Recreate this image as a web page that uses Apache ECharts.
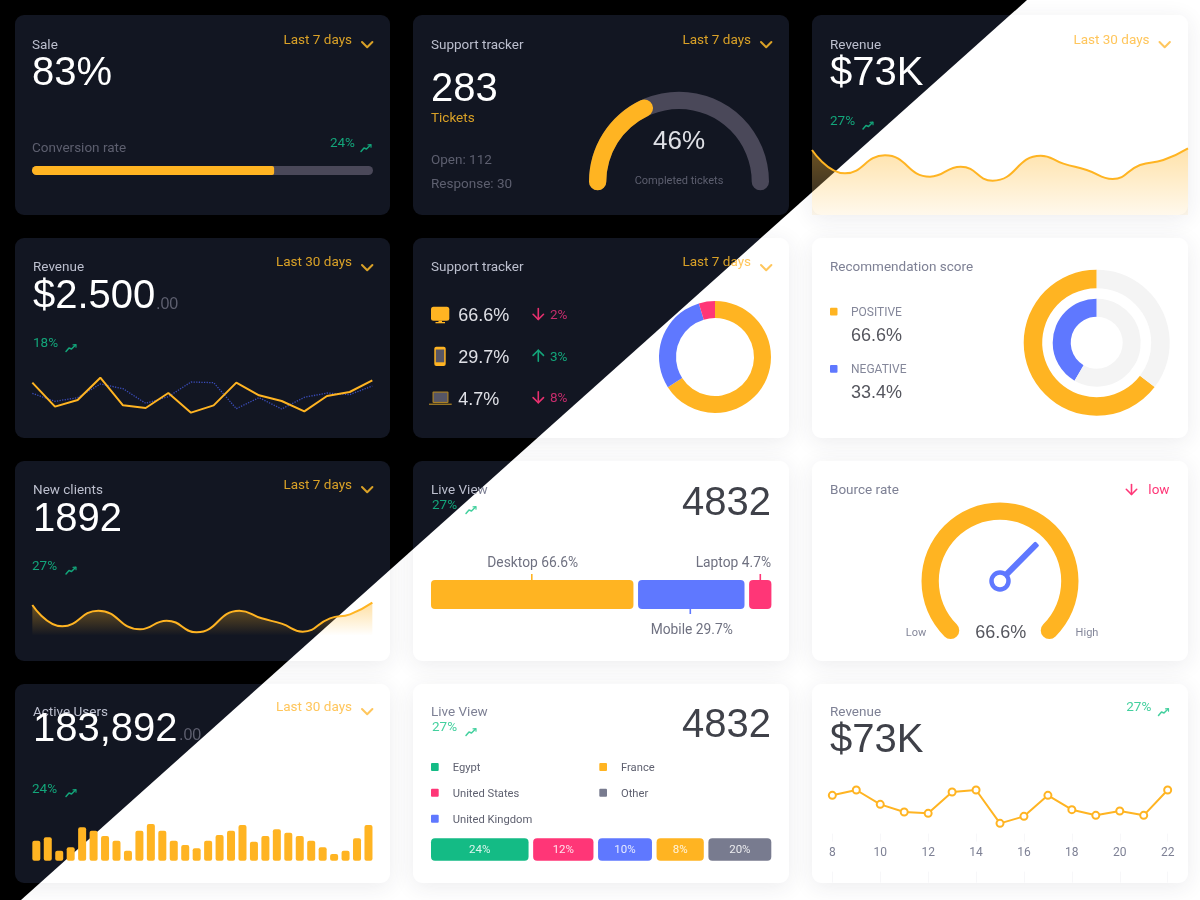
<!DOCTYPE html>
<html><head><meta charset="utf-8">
<style>
html,body{margin:0;padding:0;background:#fff;width:1200px;height:900px;overflow:hidden}
#light,#dark{position:absolute;left:0;top:0;width:1200px;height:900px}
#dark{clip-path:polygon(0 0,1027px 0,21px 900px,0 900px)}
</style>
<script src="https://cdn.jsdelivr.net/npm/echarts@6/dist/echarts.min.js"></script>
</head><body>
<div id="light"></div><div id="dark"></div>
<script>
// ---- data ----
const conversionRate = [71];
const conversionTrack = [100];
const ticketGauge = [36];
const revenueAreaX = [36,135,255,390,482,578,722,790,860,938,1020,1090,1164];
const revenueAreaY = [195,125,179,115,145,103,178,154,135,108,150,165,200];
const revenueLineA = [142,70,90,157,74,66,111,52,74,142,104,87,56,102,114,149];
const revenueLineB = [110,86,97,138,124,80,100,144,142,64,97,63,98,111,106,132];
const deviceShare = [66.6,29.7,4.7];
const recommendOuter = [64.6,35.4];
const recommendInner = [41.6,58.4];
const clientsAreaX = [97,187,295,420,500,590,718,785,845,908,990,1050,1117];
const clientsAreaY = [92,28,75,19,45,10,75,52,36,12,52,64,99];
const liveDeviceWidths = [202.5,106.5,22.3];
const liveDeviceGap = 4.6;
const bounceGauge = [66.6];
const activeUsers = [60,70,30,40,100,90,74,60,30,90,110,90,60,47,37,60,77,90,107,57,74,94,84,74,60,40,20,30,67,107];
const countryWidths = [97.7,60.4,54,47.3,63];
const countryGap = 4.6;
const countryLabels = ['24%','12%','10%','8%','20%'];
const countryNames = ['Egypt','United States','United Kingdom','France','Other'];
const revenueDays = ['8','9','10','11','12','13','14','15','16','17','18','19','20','21','22'];
const revenuePoints = [139,155,112,89,85,149,155,55,76,139,96,79,92,79,155];

const YEL='#ffb422', BLU='#5f78ff', PNK='#ff3677', GRN='#14bb85', GRY='#787b8f';
const UI='Roboto', NUM='"Liberation Sans"', US=13.5;
const themes={
 dark:{bg:'#000',card:'#121622',title:'#bcbfce',big:'#ffffff',mid:'#dfe0e6',muted:'#5d5f6f',yellow:'#d9a127',green:'#13a57a',pink:'#c52c6c',track:'#4a4859',cents:'#5d5f6f',shadow:null,up:'#13a57a',pinkArrow:'#e8306f'},
 light:{bg:'#fff',card:'#ffffff',title:'#7e8195',big:'#3f4149',mid:'#55565e',muted:'#6f7181',yellow:'#ffc65c',green:'#43d09e',pink:'#ff3677',track:'#4a4859',cents:'#a0a3b3',shadow:'rgba(40,40,70,0.09)',up:'#14bb85',pinkArrow:'#ff3677'}
};

function newLayer(theme){return {P:themes[theme],theme,grid:[],xAxis:[],yAxis:[],series:[],graphic:[]};}
function card(L,x,y,w,h){
  L.graphic.push({type:'rect',z:-10,shape:{x,y,width:w,height:h,r:9},style:{fill:L.P.card,shadowBlur:L.P.shadow?22:0,shadowColor:L.P.shadow||'transparent',shadowOffsetY:L.P.shadow?4:0},silent:true});
}
function T(L,x,y,text,s,c,opt){
  opt=opt||{};
  const dy=s>=40?3:(s>=20?2:1.4);
  L.graphic.push({type:'text',z:50,x,y:y+dy,silent:true,style:{text,fill:c,fontSize:s,fontFamily:opt.f||UI,textAlign:opt.a||'left',textVerticalAlign:'middle'}});
}
function poly(L,pts,c,w){L.graphic.push({type:'polyline',z:50,silent:true,shape:{points:pts},style:{stroke:c,lineWidth:w,fill:null,lineCap:'round',lineJoin:'round'}});}
function box(L,x,y,w,h,c,r){L.graphic.push({type:'rect',z:50,silent:true,shape:{x,y,width:w,height:h,r:r||0},style:{fill:c}});}
function chevron(L,x,y){poly(L,[[x,y],[x+5.2,y+5.2],[x+10.4,y]],L.P.yellow,2);}
function trend(L,x,y){const c=L.P.green;poly(L,[[x,y+7.5],[x+3,y+4],[x+5.5,y+5],[x+9.5,y+1]],c,1.5);poly(L,[[x+7,y+.8],[x+10,y+.5],[x+10,y+3.2]],c,1.2);}
function arrow(L,cx,y0,y1,c,up){
  poly(L,[[cx,y0],[cx,y1]],c,1.6);
  const tip=up?y0:y1,d=up?5.2:-5.2;
  poly(L,[[cx-5.2,tip+d],[cx,tip],[cx+5.2,tip+d]],c,1.6);
}
function cart(L,b,xa,ya){
  const g=L.grid.length;
  L.grid.push({left:b[0],top:b[1],width:b[2],height:b[3]});
  const xi=L.xAxis.length,yi=L.yAxis.length;
  L.xAxis.push(Object.assign({gridIndex:g,show:false},xa));
  L.yAxis.push(Object.assign({gridIndex:g,show:false},ya));
  return {g,xi,yi};
}
const idx=a=>a.map((_,i)=>String(i));
const pairs=(xs,ys)=>xs.map((x,i)=>[x,ys[i]]);

// ---- cards ----
function cardSale(L){const P=L.P;card(L,15,15,375,200);
  T(L,32,44.5,'Sale',US,P.title);T(L,32,71,'83%',40,P.big,{f:NUM});
  T(L,352,39,'Last 7 days',US,P.yellow,{a:'right'});chevron(L,362,42);
  T(L,32,147.7,'Conversion rate',US,P.muted);T(L,355,142.7,'24%',US,P.green,{a:'right'});trend(L,361,144);
  const c=cart(L,[32,166,341,9],{type:'value',min:0,max:100},{type:'category',data:['rate']});
  L.series.push({type:'bar',xAxisIndex:c.xi,yAxisIndex:c.yi,data:conversionTrack,barWidth:9,barGap:'-100%',silent:true,itemStyle:{color:P.track,borderRadius:4.5}});
  L.series.push({type:'bar',xAxisIndex:c.xi,yAxisIndex:c.yi,data:conversionRate,barWidth:9,barGap:'-100%',silent:true,itemStyle:{color:YEL,borderRadius:[4.5,2,2,4.5]}});
}
function cardTracker(L){const P=L.P;card(L,413,15,376,200);
  T(L,431,44.5,'Support tracker',US,P.title);T(L,751,39,'Last 7 days',US,P.yellow,{a:'right'});chevron(L,761,42);
  T(L,431,87.3,'283',40,P.big,{f:NUM});T(L,431,117.7,'Tickets',US,P.yellow);
  T(L,431,159.3,'Open: 112',US,P.muted);T(L,431,183.7,'Response: 30',US,P.muted);
  L.series.push({type:'gauge',center:[679,181.7],radius:90,startAngle:180,endAngle:0,min:0,max:100,silent:true,
    axisLine:{roundCap:true,lineStyle:{width:17.3,color:[[1,P.track]]}},progress:{show:true,roundCap:true,width:17.3,itemStyle:{color:YEL}},
    pointer:{show:false},axisTick:{show:false},splitLine:{show:false},axisLabel:{show:false},title:{show:false},detail:{show:false},data:ticketGauge.map(v=>({value:v}))});
  T(L,679,140,'46%',26,P.mid,{a:'center',f:NUM});T(L,679,180,'Completed tickets',11,P.muted,{a:'center'});
}
function cardRevenueArea(L){const P=L.P;card(L,812,15,376,200);
  T(L,830,44.5,'Revenue',US,P.title);T(L,830,71,'$73K',40,P.big,{f:NUM});
  T(L,1149.5,39,'Last 30 days',US,P.yellow,{a:'right'});chevron(L,1159.5,42);
  T(L,830,120,'27%',US,P.green);trend(L,863,121.5);
  const c=cart(L,[812,133.33,376,81.67],{type:'value',min:36,max:1164},{type:'value',min:0,max:245});
  L.series.push({type:'line',xAxisIndex:c.xi,yAxisIndex:c.yi,data:pairs(revenueAreaX,revenueAreaY),smooth:0.5,symbol:'none',silent:true,lineStyle:{color:YEL,width:2},
    areaStyle:{color:{type:'linear',x:0,y:0,x2:0,y2:1,colorStops:[{offset:0,color:'rgba(255,180,34,0.55)'},{offset:1,color:'rgba(255,180,34,0.12)'}]}}});
}
function cardRevenueLines(L){const P=L.P;card(L,15,238,375,200);
  T(L,33,266.7,'Revenue',US,P.title);T(L,33,294,'$2.500',40,P.big,{f:NUM});T(L,156,302.7,'.00',16,P.cents,{f:NUM});
  T(L,352,261.7,'Last 30 days',US,P.yellow,{a:'right'});chevron(L,362,265);
  T(L,33,342.7,'18%',US,P.green);trend(L,66,344);
  const c=cart(L,[32.33,363.33,340,66.67],{type:'category',boundaryGap:false,data:idx(revenueLineA)},{type:'value',min:0,max:200});
  L.series.push({type:'line',xAxisIndex:c.xi,yAxisIndex:c.yi,data:revenueLineB,symbol:'none',silent:true,lineStyle:{color:'#3a4cb8',width:1.3,type:'dotted'}});
  L.series.push({type:'line',xAxisIndex:c.xi,yAxisIndex:c.yi,data:revenueLineA,symbol:'none',silent:true,lineStyle:{color:YEL,width:2}});
}
function cardDevices(L){const P=L.P;card(L,413,238,376,200);
  T(L,431,266.7,'Support tracker',US,P.title);T(L,751,261.7,'Last 7 days',US,P.yellow,{a:'right'});chevron(L,761,265);
  box(L,431,306.7,18.3,14,YEL,2.5);box(L,438.5,320.7,3.5,1.6,YEL);box(L,435.5,322,9.5,1.3,YEL);
  box(L,434.3,346.7,11.4,19.4,YEL,2);box(L,435.8,349.5,8.4,12.8,'#565666');
  box(L,432.5,391.5,16,11.5,'#a87f24',1);box(L,433.7,392.7,13.6,9.2,'#565666');box(L,429,403.6,22.7,1.3,'#a87f24');
  const rows=[[315,'66.6%','2%',true],[356.7,'29.7%','3%',false],[398.3,'4.7%','8%',true]];
  rows.forEach(r=>{T(L,458.3,r[0],r[1],18,P.mid,{f:NUM});
    arrow(L,538.3,r[0]-6.5,r[0]+4.5,r[3]?P.pinkArrow:P.up,!r[3]);
    T(L,550,r[0]-.6,r[2],US,r[3]?P.pink:P.green);});
  L.series.push({type:'pie',center:[715,357],radius:[39,56],startAngle:90,silent:true,label:{show:false},labelLine:{show:false},
    data:deviceShare.map((v,i)=>({value:v,itemStyle:{color:[YEL,BLU,PNK][i]}}))});
}
function cardRecommend(L){const P=L.P;card(L,812,238,376,200);
  T(L,830,266.7,'Recommendation score',US,P.title);
  box(L,830,307.7,7.5,7.8,YEL,1);T(L,851,311.7,'POSITIVE',12,'#84879a');T(L,851,335,'66.6%',18,P.mid,{f:NUM});
  box(L,830,365,7.5,7.8,BLU,1);T(L,851,368.7,'NEGATIVE',12,'#84879a');T(L,851,392,'33.4%',18,P.mid,{f:NUM});
  const ring=(vals,col,rad)=>L.series.push({type:'pie',center:[1096.7,342.7],radius:rad,startAngle:90,clockwise:false,silent:true,label:{show:false},labelLine:{show:false},
    data:vals.map((v,i)=>({value:v,itemStyle:{color:i?'#f4f4f4':col}}))});
  ring(recommendOuter,YEL,[54.5,73]);ring(recommendInner,BLU,[26,44]);
}
function cardClients(L){const P=L.P;card(L,15,461,375,200);
  T(L,33,489.3,'New clients',US,P.title);T(L,33,517,'1892',40,P.big,{f:NUM});
  T(L,352,484,'Last 7 days',US,P.yellow,{a:'right'});chevron(L,362,487);
  T(L,32,565,'27%',US,P.green);trend(L,66,566.5);
  const c=cart(L,[32.33,588.33,340,47.33],{type:'value',min:97,max:1117},{type:'value',min:0,max:142});
  L.series.push({type:'line',xAxisIndex:c.xi,yAxisIndex:c.yi,data:pairs(clientsAreaX,clientsAreaY),smooth:0.5,symbol:'none',silent:true,lineStyle:{color:YEL,width:2},
    areaStyle:{color:{type:'linear',x:0,y:0,x2:0,y2:1,colorStops:[{offset:0,color:'rgba(255,180,34,0.6)'},{offset:1,color:'rgba(255,180,34,0)'}]}}});
}
function segments(L,b,widths,gap,cols,labels){
  let pos=0;
  const rows=widths.map((w,i)=>{const r=[pos,pos+w,i];pos+=w+gap;return r;});
  const total=pos-gap;
  const c=cart(L,b,{type:'value',min:0,max:total},{type:'category',data:['share']});
  L.series.push({type:'custom',xAxisIndex:c.xi,yAxisIndex:c.yi,data:rows,silent:true,encode:{x:[0,1]},clip:false,
    renderItem:function(params,api){
      const a=api.coord([api.value(0),0]),e=api.coord([api.value(1),0]),h=api.size([0,1])[1],i=api.value(2);
      const kids=[{type:'rect',shape:{x:a[0],y:a[1]-h/2,width:e[0]-a[0],height:h,r:4},style:{fill:cols[i]}}];
      if(labels)kids.push({type:'text',x:(a[0]+e[0])/2,y:a[1]+.8,style:{text:labels[i],fill:'rgba(255,255,255,0.85)',fontSize:11.5,fontFamily:UI,align:'center',verticalAlign:'middle'}});
      return {type:'group',children:kids};
    }});
}
function cardLiveBar(L){const P=L.P;card(L,413,461,376,200);
  T(L,431,489.3,'Live View',US,P.title);T(L,432,504.3,'27%',US,P.green);trend(L,466,506);
  T(L,771,501,'4832',40,P.big,{a:'right',f:NUM});
  T(L,487.3,561.7,'Desktop 66.6%',13.8,P.muted);T(L,771,561.7,'Laptop 4.7%',13.8,P.muted,{a:'right'});T(L,650.7,629,'Mobile 29.7%',13.8,P.muted);
  box(L,531,574,1.6,6,YEL);box(L,689.5,609,1.6,5,BLU);box(L,759.5,574,1.6,6,PNK);
  segments(L,[431,580,340.4,29],liveDeviceWidths,liveDeviceGap,[YEL,BLU,PNK],null);
}
function cardBounce(L){const P=L.P;card(L,812,461,376,200);
  T(L,830,489.3,'Bource rate',US,P.title);T(L,1169.5,489.3,'low',US,PNK,{a:'right'});arrow(L,1131.5,484.5,494.5,PNK,false);
  L.series.push({type:'gauge',center:[1000,581],radius:78.5,startAngle:225,endAngle:-45,min:0,max:100,silent:true,
    axisLine:{roundCap:true,lineStyle:{width:17.3,color:[[1,YEL]]}},progress:{show:false},
    pointer:{show:true,icon:'roundRect',length:53,width:6,offsetCenter:[0,0],itemStyle:{color:BLU}},
    anchor:{show:true,showAbove:true,icon:'circle',size:17,itemStyle:{color:'#fff',borderColor:BLU,borderWidth:4.5}},
    axisTick:{show:false},splitLine:{show:false},axisLabel:{show:false},title:{show:false},detail:{show:false},data:bounceGauge.map(v=>({value:v}))});
  T(L,916,632.3,'Low',11,'#84879a',{a:'center'});T(L,1087,632.3,'High',11,'#84879a',{a:'center'});T(L,1000.7,632,'66.6%',18,P.mid,{a:'center',f:NUM});
}
function cardActive(L){const P=L.P;card(L,15,684,375,199);
  T(L,33,711.7,'Active Users',US,P.title);T(L,33,726.7,'183,892',40,P.big,{f:NUM});T(L,179,734.3,'.00',16,P.cents,{f:NUM});
  T(L,352,706.7,'Last 30 days',US,P.yellow,{a:'right'});chevron(L,362,709);
  T(L,32,788.3,'24%',US,P.green);trend(L,66,789);
  const c=cart(L,[30.6,808.33,343.6,52.33],{type:'category',data:idx(activeUsers)},{type:'value',min:0,max:157});
  L.series.push({type:'bar',xAxisIndex:c.xi,yAxisIndex:c.yi,data:activeUsers,barWidth:8,silent:true,itemStyle:{color:YEL,borderRadius:2}});
}
function cardCountries(L){const P=L.P;card(L,413,684,376,199);
  T(L,431,711.7,'Live View',US,P.title);T(L,432,726.7,'27%',US,P.green);trend(L,466,728);
  T(L,771,723.3,'4832',40,P.big,{a:'right',f:NUM});
  const cols=[GRN,PNK,BLU,YEL,GRY];
  const pos=[[431,767],[431,792.7],[431,818.7],[599.3,767],[599.3,792.7]];
  countryNames.forEach((n,i)=>{box(L,pos[i][0],pos[i][1]-4,7.7,8,cols[i],1);T(L,pos[i][0]+21.7,pos[i][1],n,11.2,'#5f6170');});
  segments(L,[431,838.3,340.3,22.4],countryWidths,countryGap,cols,countryLabels);
}
function cardRevenuePoints(L){const P=L.P;card(L,812,684,376,199);
  T(L,830,711.7,'Revenue',US,P.title);T(L,830,738.3,'$73K',40,P.big,{f:NUM});
  T(L,1151.3,706.7,'27%',US,P.green,{a:'right'});trend(L,1158.5,708);
  const c=cart(L,[832.33,775,335.34,66.67],{type:'category',boundaryGap:false,data:revenueDays,show:true,axisLine:{show:false},
      axisTick:{show:true,inside:true,length:8,interval:1,lineStyle:{color:'#f7f7f9'}},axisLabel:{interval:1,margin:5,fontSize:12,color:'#7e8195',fontFamily:UI,showMinLabel:true,showMaxLabel:true}},{type:'value',min:0,max:200});
  L.xAxis.push({gridIndex:c.g,type:'category',boundaryGap:false,data:revenueDays,show:true,position:'bottom',offset:30,axisLine:{show:false},axisLabel:{show:false},axisTick:{show:true,length:11,interval:1,lineStyle:{color:'#f7f7f9'}}});
  L.series.push({type:'line',xAxisIndex:c.xi,yAxisIndex:c.yi,data:revenuePoints,symbol:'circle',symbolSize:7,showAllSymbol:true,silent:true,lineStyle:{color:YEL,width:2},itemStyle:{color:'#fff',borderColor:YEL,borderWidth:2}});
}

function render(domId,theme,cards){
  const L=newLayer(theme);
  cards.forEach(f=>f(L));
  const ch=echarts.init(document.getElementById(domId));
  ch.setOption({backgroundColor:L.P.bg,animation:false,tooltip:{show:false},grid:L.grid,xAxis:L.xAxis,yAxis:L.yAxis,series:L.series,graphic:{elements:L.graphic}});
}
render('light','light',[cardRevenueArea,cardDevices,cardRecommend,cardClients,cardLiveBar,cardBounce,cardActive,cardCountries,cardRevenuePoints]);
render('dark','dark',[cardSale,cardTracker,cardRevenueArea,cardRevenueLines,cardDevices,cardClients,cardLiveBar,cardActive]);
</script>
</body></html>
